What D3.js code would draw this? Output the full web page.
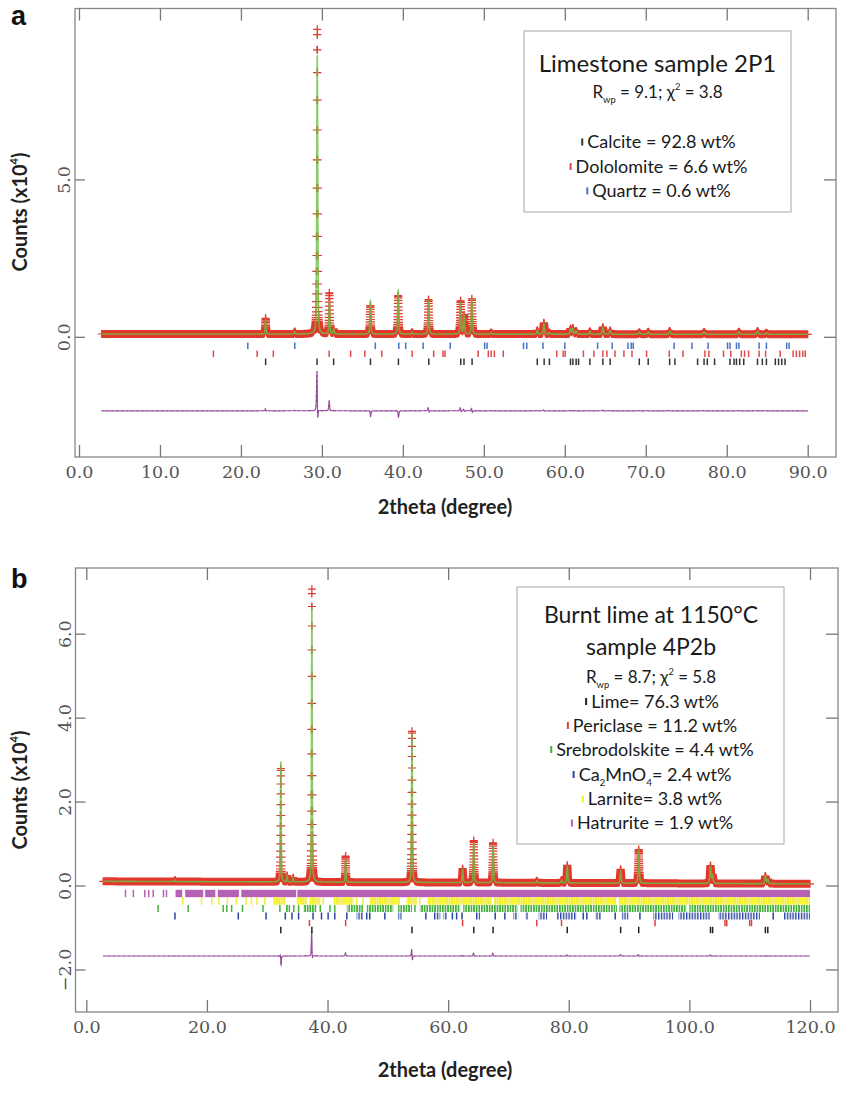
<!DOCTYPE html>
<html>
<head>
<meta charset="utf-8">
<script src="https://cdn.jsdelivr.net/npm/d3@7"></script>
<style>
  body { margin: 0; background: #fff; }
  .tick-label { font-family: "DejaVu Serif", serif; font-size: 17.5px; fill: #555; }
  .axis-title { font-family: Lato, "Open Sans", sans-serif; font-weight: bold; font-size: 20px; fill: #222; }
  .panel-letter { font-family: "Liberation Sans", Arial, sans-serif; font-weight: bold; font-size: 27px; fill: #111; }
  .legend text { font-family: Lato, "Open Sans", sans-serif; fill: #1a1a1a; }
</style>
</head>
<body>
<div id="chart"></div>
<script>
// ---------- panel a : limestone sample 2P1 ----------
const rangeA = [2.8, 90];
const backgroundA = [0.09, 0.08];
const peakPosA    = [23.05, 26.65, 29.42, 30.92, 31.45, 35.98, 39.42, 41.12, 43.17, 47.13, 47.55, 48.52, 50.9, 56.6, 57.42, 58.1, 60.7, 61.0, 61.4, 63.1, 64.7, 65.6, 69.2, 70.3, 72.95, 77.2, 81.5, 83.8, 84.9];
const obsHeightA  = [0.5, 0.08, 9.68, 1.3, 0.15, 0.9, 1.22, 0.06, 1.1, 1.05, 0.6, 1.12, 0.05, 0.12, 0.36, 0.05, 0.17, 0.19, 0.1, 0.09, 0.22, 0.12, 0.06, 0.08, 0.1, 0.07, 0.08, 0.1, 0.05];
const calcHeightA = [0.46, 0.07, 8.86, 1.02, 0.15, 1.05, 1.38, 0.06, 1.06, 1.0, 0.58, 1.1, 0.05, 0.12, 0.35, 0.05, 0.17, 0.19, 0.1, 0.09, 0.21, 0.12, 0.06, 0.08, 0.1, 0.07, 0.08, 0.1, 0.05];
const diffOffsetA = -2.35;
const xTicksA = [0, 10, 20, 30, 40, 50, 60, 70, 80, 90];
const yTicksA = [0, 5];

const quartzPos   = [20.85, 26.65, 36.6, 39.5, 40.35, 42.5, 45.85, 50.1, 50.4, 54.9, 55.3, 57.3, 60.0, 64.05, 65.85, 67.8, 68.2, 68.45, 73.5, 75.7, 77.7, 80.1, 80.4, 81.2, 81.5, 84.0, 84.9, 87.4, 87.7];
const dolomitePos = [16.6, 22.0, 24.0, 30.9, 33.55, 35.3, 37.4, 41.15, 43.8, 44.95, 45.2, 49.3, 50.55, 50.9, 51.3, 52.4, 59.0, 59.8, 60.05, 62.3, 63.6, 64.7, 65.2, 66.2, 67.3, 68.3, 70.1, 72.9, 74.6, 77.3, 77.8, 79.6, 80.5, 81.8, 82.2, 82.7, 84.0, 84.8, 86.6, 88.2, 88.6, 89.0, 89.4, 89.7];
const calcitePos  = [23.05, 29.4, 31.45, 36.0, 39.45, 43.2, 47.15, 47.55, 48.55, 56.6, 57.45, 58.1, 60.7, 61.0, 61.4, 61.7, 63.1, 64.7, 65.6, 69.2, 70.3, 72.95, 73.6, 76.4, 77.2, 77.6, 78.5, 80.4, 80.9, 81.2, 81.6, 82.1, 83.8, 84.4, 84.9, 86.0, 86.4, 86.8, 87.2];

const legendTitleA  = ["Limestone sample 2P1"];
const legendStatsA  = "R_{wp} = 9.1; χ^{2} = 3.8";
const legendPhasesA = ["Calcite = 92.8 wt%", "Dololomite = 6.6 wt%", "Quartz = 0.6 wt%"];

// ---------- panel b : burnt lime 4P2b ----------
const rangeB = [2.8, 120];
const backgroundB = [0.1, 0.04];
const peakPosB    = [14.7, 32.25, 33.3, 34.3, 37.4, 43.0, 54.0, 62.4, 64.25, 67.45, 74.7, 78.8, 79.75, 88.6, 91.6, 103.5, 103.85, 112.6, 113.0];
const obsHeightB  = [0.04, 2.7, 0.15, 0.1, 6.98, 0.62, 3.6, 0.33, 1.0, 0.95, 0.05, 0.07, 0.42, 0.33, 0.8, 0.42, 0.2, 0.18, 0.1];
const calcHeightB = [0.04, 2.85, 0.15, 0.1, 6.55, 0.55, 3.55, 0.32, 0.95, 0.9, 0.05, 0.07, 0.4, 0.3, 0.78, 0.4, 0.2, 0.18, 0.1];
const diffOffsetB = -1.68;
const xTicksB = [0, 20, 40, 60, 80, 100, 120];
const yTicksB = [-2, 0, 2, 4, 6];

const hatruritePos   = [6.5, 7.8, 9.7, 10.35, 11.1, 12.8, 13.3];
const hatruriteBands = [[14.8, 15.9], [16.4, 19.4], [19.7, 21.4], [21.8, 25.3], [25.7, 34.8], [35.0, 120]];
const larnitePos     = [16.0, 19.1, 20.8, 22.0, 23.4, 24.9, 26.5, 27.4, 28.3, 29.6, 39.3, 44.8, 45.9, 55.3];
const larniteBands   = [[31.0, 33.0], [34.9, 36.6], [37.0, 38.8], [41.0, 44.3], [47.0, 52.0], [53.1, 54.8], [56.6, 67.2], [67.6, 87.9], [88.3, 120]];
const srebroPos      = [11.9, 16.9, 22.7, 23.3, 24.1, 25.9, 29.3, 32.1, 34.4, 35.2, 38.8, 40.4, 41.2, 54.5];
const srebroBands    = [[33.0, 33.8], [36.0, 38.2], [43.2, 45.9], [46.5, 50.9], [51.7, 54.0], [55.3, 62.0], [62.5, 71.5], [72.0, 88.0], [88.4, 99.5], [100.0, 120]];
const camnoPos       = [14.7, 25.2, 29.8, 33.0, 34.1, 35.2, 37.6, 39.0, 40.1, 41.2, 43.2, 46.5, 47.0, 49.5, 56.3, 60.7, 61.4, 62.3, 67.8, 69.4, 82.4, 83.0, 87.7, 91.8, 113.9];
const camnoBands     = [[44.8, 45.9], [51.7, 52.3], [57.5, 58.7], [59.2, 59.8], [64.5, 65.3], [70.8, 71.6], [72.8, 73.3], [75.0, 76.4], [78.0, 81.3], [84.4, 85.5], [88.8, 89.9], [94.0, 97.3], [98.2, 103.4], [104.8, 111.7], [115.6, 120]];
const periclasePos   = [37.0, 43.0, 62.4, 74.7, 78.8, 94.3, 105.9, 106.2, 110.0, 110.3];
const limePos        = [32.25, 37.4, 54.0, 64.25, 67.45, 79.75, 88.6, 91.6, 103.5, 103.85, 112.6, 113.0];

const legendTitleB  = ["Burnt lime at 1150°C", "sample 4P2b"];
const legendStatsB  = "R_{wp} = 8.7; χ^{2} = 5.8";
const legendPhasesB = ["Lime= 76.3 wt%", "Periclase = 11.2 wt%", "Srebrodolskite = 4.4 wt%", "Ca_{2}MnO_{4}= 2.4 wt%", "Larnite= 3.8 wt%", "Hatrurite = 1.9 wt%"];

// ---------------------------------------------------
const svg = d3.select("#chart").append("svg")
  .attr("width", 856).attr("height", 1093);
const defs = svg.append("defs");

const RED = "#e2372c", GREEN = "#6dbf45", PURPLE = "#a652aa";

// striped fill so that merged reflection ticks still read as ticks
function stripes(id, color, gap, bar) {
  const pat = defs.append("pattern").attr("id", id)
    .attr("patternUnits", "userSpaceOnUse").attr("width", gap).attr("height", 10);
  pat.append("rect").attr("width", bar).attr("height", 10).attr("fill", color);
  return `url(#${id})`;
}

// pseudo-voigt sum of the peak list
function pattern(t, pos, hts, bg, range, shift) {
  let v = bg[0] + (bg[1] - bg[0]) * (t - range[0]) / (range[1] - range[0]);
  for (let i = 0; i < pos.length; i++) {
    const d = t - pos[i] - shift;
    if (d > 4 || d < -4) continue;
    const w = 0.1 + 0.0012 * pos[i];
    const q = d * d / (w * w);
    v += hts[i] * (0.6 * Math.exp(-4 * Math.LN2 * q) + 0.4 / (1 + 4 * q));
  }
  return v;
}

function richText(sel, str, size) {
  const parts = str.split(/(_\{[^}]*\}|\^\{[^}]*\})/).filter(s => s);
  let shift = 0;
  parts.forEach(p => {
    let target = 0, fs = size, txt = p;
    if (p.startsWith("_{")) { target = size * 0.3; fs = size * 0.55; txt = p.slice(2, -1); }
    else if (p.startsWith("^{")) { target = -size * 0.45; fs = size * 0.55; txt = p.slice(2, -1); }
    sel.append("tspan").attr("dy", target - shift).attr("font-size", fs).text(txt);
    shift = target;
  });
}

function drawPanel(p) {
  const g = svg.append("g");
  const [fx0, fy0, fx1, fy1] = p.frame;

  // observed (+), calculated (line), difference
  const nObs = Math.round((p.range[1] - p.range[0]) / 0.01);
  const obs = d3.range(nObs + 1).map(i => {
    const t = p.range[0] + i * 0.01;
    return [t, pattern(t, p.pos, p.obsH, p.bg, p.range, 0)];
  });
  const nCalc = Math.round((p.range[1] - p.range[0]) / 0.004);
  const calc = d3.range(nCalc + 1).map(i => {
    const t = p.range[0] + i * 0.004;
    return [t, pattern(t, p.pos, p.calcH, p.bg, p.range, p.shift)];
  });
  const diff = obs.map(([t, v]) => [t, v - pattern(t, p.pos, p.calcH, p.bg, p.range, p.shift) + p.diffOffset]);

  const plus = obs.map(([t, v]) => {
    const x = p.x(t), y = p.y(v);
    return `M${(x - 4).toFixed(1)},${y.toFixed(1)}h8M${x.toFixed(1)},${(y - 4).toFixed(1)}v8`;
  }).join("");
  g.append("path").attr("d", plus).attr("fill", "none")
    .attr("stroke", RED).attr("stroke-width", 1.2);

  const line = d3.line().x(d => p.x(d[0])).y(d => p.y(d[1]));
  g.append("path").attr("d", line(calc)).attr("fill", "none")
    .attr("stroke", GREEN).attr("stroke-width", 1.6).attr("opacity", 0.8);

  g.append("path").attr("d", line(diff)).attr("fill", "none")
    .attr("stroke", PURPLE).attr("stroke-width", 1.2);
  g.append("path").attr("d", line(diff)).attr("fill", "none")
    .attr("stroke", "#555").attr("stroke-width", 0.8)
    .attr("stroke-dasharray", "1.5,3.5").attr("opacity", 0.7);

  // reflection tick rows
  const y0 = p.y(0);
  p.phases.forEach((ph, k) => {
    const yr = y0 + ph.dy;
    const h = ph.half || 3.3;
    g.append("g").selectAll("line").data(ph.pos).join("line")
      .attr("x1", d => p.x(d)).attr("x2", d => p.x(d))
      .attr("y1", yr - h).attr("y2", yr + h)
      .attr("stroke", ph.color).attr("stroke-width", 1.5);
    const fill = ph.stripe ? stripes(`st${p.letter}${k}`, ph.color, ph.stripe[0], ph.stripe[1]) : ph.color;
    g.append("g").selectAll("rect").data(ph.bands || []).join("rect")
      .attr("x", d => p.x(d[0])).attr("width", d => p.x(d[1]) - p.x(d[0]))
      .attr("y", yr - h).attr("height", 2 * h)
      .attr("fill", fill);
  });

  // frame and axes (ticks point inward)
  g.append("rect").attr("x", fx0).attr("y", fy0)
    .attr("width", fx1 - fx0).attr("height", fy1 - fy0)
    .attr("fill", "none").attr("stroke", "#888").attr("stroke-width", 1.3);

  const fmt = d3.format(".1f");
  const axB = g.append("g").attr("transform", `translate(0,${fy1})`)
    .call(d3.axisBottom(p.x).tickValues(p.xTicks).tickFormat(fmt).tickSize(-12).tickPadding(9));
  const axT = g.append("g").attr("transform", `translate(0,${fy0})`)
    .call(d3.axisTop(p.x).tickValues(p.xTicks).tickFormat("").tickSize(-12));
  const axL = g.append("g").attr("transform", `translate(${fx0},0)`)
    .call(d3.axisLeft(p.y).tickValues(p.yTicks).tickFormat(fmt).tickSize(-10));
  const axR = g.append("g").attr("transform", `translate(${fx1},0)`)
    .call(d3.axisRight(p.y).tickValues(p.yTicks).tickFormat("").tickSize(-12));
  [axB, axT, axL, axR].forEach(a => {
    a.select(".domain").remove();
    a.selectAll("line").attr("stroke", "#777").attr("stroke-width", 1.3);
    a.selectAll("text").attr("class", "tick-label");
  });
  axL.selectAll("text")
    .attr("transform", "rotate(-90)")
    .attr("x", 0).attr("y", -11).attr("dy", "0.35em")
    .attr("text-anchor", "middle");

  // axis titles
  const yt = g.append("text").attr("class", "axis-title")
    .attr("transform", `translate(${p.yTitle[0]},${p.yTitle[1]}) rotate(-90)`)
    .attr("text-anchor", "middle").attr("dy", "0.35em");
  richText(yt, "Counts (x10^{4})", 20);
  g.append("text").attr("class", "axis-title")
    .attr("x", p.xTitle[0]).attr("y", p.xTitle[1])
    .attr("text-anchor", "middle").text("2theta (degree)");
  g.append("text").attr("class", "panel-letter")
    .attr("x", p.letterPos[0]).attr("y", p.letterPos[1]).text(p.letter);

  // legend box
  const lg = g.append("g").attr("class", "legend");
  const [bx0, by0, bx1, by1] = p.legend.box;
  lg.append("rect").attr("x", bx0).attr("y", by0)
    .attr("width", bx1 - bx0).attr("height", by1 - by0)
    .attr("fill", "#fff").attr("stroke", "#b5b5b5").attr("stroke-width", 1.2);
  const cx = p.legend.cx;
  p.legend.title.forEach((t, i) => {
    lg.append("text").attr("x", cx).attr("y", p.legend.titleY[i])
      .attr("text-anchor", "middle").attr("font-size", p.legend.titleSize).text(t);
  });
  const st = lg.append("text").attr("x", cx).attr("y", p.legend.statsY)
    .attr("text-anchor", "middle").attr("font-size", 17);
  richText(st, p.legend.stats, 17);
  p.legend.phases.forEach((t, i) => {
    const yb = p.legend.phaseY[i];
    const tx = lg.append("text").attr("x", cx + 4).attr("y", yb)
      .attr("text-anchor", "middle").attr("font-size", 18);
    richText(tx, t, 18);
    const bb = tx.node().getBBox();
    lg.append("rect").attr("x", bb.x - 6).attr("y", yb - 9.5)
      .attr("width", 2).attr("height", 7)
      .attr("fill", p.legend.colors[i]);
  });
}

drawPanel({
  frame: [75, 8.5, 836, 457],
  x: d3.scaleLinear().domain([0, 90]).range([79, 807.7]),
  y: d3.scaleLinear().domain([0, 5]).range([336.8, 179.4]),
  range: rangeA, bg: backgroundA, pos: peakPosA, obsH: obsHeightA, calcH: calcHeightA,
  shift: 0.007, diffOffset: diffOffsetA, xTicks: xTicksA, yTicks: yTicksA,
  phases: [
    { pos: quartzPos, color: "#4a72c4", dy: 9 },
    { pos: dolomitePos, color: "#e04a4a", dy: 17 },
    { pos: calcitePos, color: "#333", dy: 25 }
  ],
  yTitle: [27, 212], xTitle: [445, 514], letter: "a", letterPos: [11, 25],
  legend: {
    box: [524, 31, 791, 212], cx: 657.5, title: legendTitleA, titleY: [72], titleSize: 24,
    stats: legendStatsA, statsY: 98, phases: legendPhasesA, phaseY: [148, 172.5, 197],
    colors: ["#333", "#e04a4a", "#4a72c4"]
  }
});

drawPanel({
  frame: [75.5, 568, 838, 1012],
  x: d3.scaleLinear().domain([0, 120]).range([86.3, 810]),
  y: d3.scaleLinear().domain([0, 6]).range([885.5, 633.7]),
  range: rangeB, bg: backgroundB, pos: peakPosB, obsH: obsHeightB, calcH: calcHeightB,
  shift: 0.004, diffOffset: diffOffsetB, xTicks: xTicksB, yTicks: yTicksB,
  phases: [
    { pos: hatruritePos, bands: hatruriteBands, color: "#b461b6", dy: 8, half: 3.7 },
    { pos: larnitePos, bands: larniteBands, color: "#f2ee2a", dy: 15.5, half: 3.7, stripe: [2.4, 2] },
    { pos: srebroPos, bands: srebroBands, color: "#45b03c", dy: 23, half: 3.5, stripe: [2.6, 1.7] },
    { pos: camnoPos, bands: camnoBands, color: "#2b45a3", dy: 30.5, half: 3.5, stripe: [2.8, 1.4] },
    { pos: periclasePos, color: "#e0403a", dy: 37.5, half: 3.2 },
    { pos: limePos, color: "#222", dy: 44.5, half: 3.2 }
  ],
  yTitle: [27, 790], xTitle: [445, 1077], letter: "b", letterPos: [11, 588],
  legend: {
    box: [517, 587, 784, 844], cx: 651, title: legendTitleB, titleY: [623, 655], titleSize: 23,
    stats: legendStatsB, statsY: 682.5, phases: legendPhasesB,
    phaseY: [707.5, 731.5, 755.5, 780.5, 805, 829],
    colors: ["#222", "#e0403a", "#45b03c", "#2b45a3", "#f2ee2a", "#b461b6"]
  }
});
</script>
</body>
</html>
